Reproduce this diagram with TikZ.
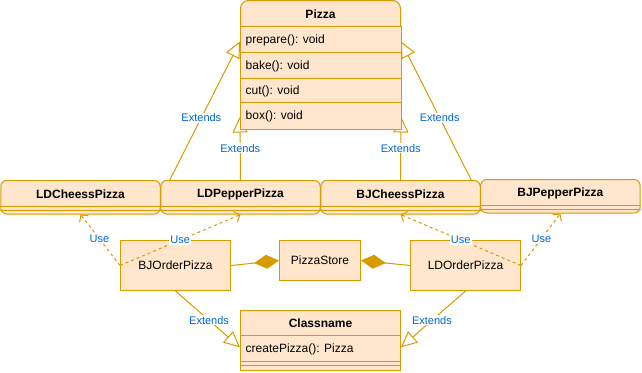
\documentclass[tikz,border=0pt]{standalone}
\usepackage{fontspec}
\setmainfont{Liberation Sans}
\usetikzlibrary{arrows.meta,calc}
\definecolor{boxfill}{HTML}{FFE6CC}
\definecolor{boxline}{HTML}{D79B00}
\definecolor{lblblue}{HTML}{0066CC}
\pgfdeclarelayer{bg}
\pgfsetlayers{bg,main}

\begin{document}
\begin{tikzpicture}[x=1pt,y=-1pt,
  clsbox/.style={draw=boxline, fill=boxfill, line width=1pt, inner sep=0pt, minimum width=160pt},
  roundbox/.style={clsbox, rounded corners=6pt, minimum width=159.5pt, minimum height=33.5pt},
  plainbox/.style={draw=boxline, fill=boxfill, line width=1pt, inner sep=0pt,
    font=\fontsize{12}{14}\selectfont},
  title/.style={font=\fontsize{12}{14}\selectfont\bfseries, inner sep=0pt},
  member/.style={font=\fontsize{12}{14}\selectfont, anchor=west, inner sep=0pt},
  sepline/.style={draw=boxline, line width=1pt},
  wire/.style={draw=boxline, line width=1pt},
  extends/.style={wire, -{Triangle[open, length=16pt, width=15pt]}},
  uses/.style={wire, dash pattern=on 3pt off 3pt, -{Straight Barb[length=5pt, width=11pt]}},
  owns/.style={wire, -{Diamond[length=25pt, width=14pt]}},
  lbl/.style={font=\fontsize{11}{13}\selectfont, text=lblblue, fill=white, inner sep=1pt}]

\useasboundingbox (0,0) rectangle (642,372);

% ---------- abstract product: Pizza ----------
\node[clsbox, rounded corners=8pt, minimum height=128pt] (pizza) at (320.5,64.5) {};
\draw[clsbox] ($(pizza.north west)+(0,26)$) rectangle (pizza.south east);
\foreach \dy in {52,78,102}
  \draw[sepline] ($(pizza.north west)+(0,\dy)$) -- ($(pizza.north east)+(0,\dy)$);
\node[title] (pizzat) at ($(pizza.north)+(0,14)$) {Pizza};
\node[member] (mprep) at ($(pizza.north west)+(5.5,40.5)$) {prepare(): void};
\node[member] (mbake) at ($(pizza.north west)+(5.5,66.5)$) {bake(): void};
\node[member] (mcut)  at ($(pizza.north west)+(5.5,91.5)$) {cut(): void};
\node[member] (mbox)  at ($(pizza.north west)+(5.5,116)$) {box(): void};

% ---------- concrete products ----------
\node[roundbox] (ldc) at (80.5,197.25) {};
\node[roundbox] (ldp) at (240.5,197.25) {};
\node[roundbox] (bjc) at (400.5,197.25) {};
\node[roundbox] (bjp) at (560.4,196.25) {};
\foreach \n in {ldc,ldp,bjc,bjp} {
  \draw[sepline] ($(\n.north west)+(0,26)$) -- ($(\n.north east)+(0,26)$);
  \draw[sepline] ($(\n.north west)+(0,30)$) -- ($(\n.north east)+(0,30)$);
}
\node[title] (ldct) at ($(ldc.north)+(0,14)$) {LDCheessPizza};
\node[title] (ldpt) at ($(ldp.north)+(0,14)$) {LDPepperPizza};
\node[title] (bjct) at ($(bjc.north)+(0,14)$) {BJCheessPizza};
\node[title] (bjpt) at ($(bjp.north)+(0,14)$) {BJPepperPizza};

% ---------- generalisation edges towards Pizza (behind the boxes) ----------
\coordinate (e1s) at ($(ldp.north west)+(9.5,0)$);
\coordinate (e1t) at ($(pizza.north west)+(0,41.5)$);
\coordinate (e2t) at ($(pizza.south west)+(0,-12.5)$);
\coordinate (e3s) at ($(bjc.north east)+(-9.5,0)$);
\coordinate (e3t) at ($(pizza.north east)+(0,41.5)$);
\coordinate (e4t) at ($(pizza.south east)+(0,-12.5)$);
\begin{pgfonlayer}{bg}
  \draw[extends] (e1s) -- node[lbl, pos=0.45] (x1) {Extends} (e1t);
  \draw[extends] (ldp.north) -- node[lbl, pos=0.5] (x2) {Extends} (e2t);
  \draw[extends] (e3s) -- node[lbl, pos=0.45] (x3) {Extends} (e3t);
  \draw[extends] (bjc.north) -- node[lbl, pos=0.5] (x4) {Extends} (e4t);
\end{pgfonlayer}

% ---------- store and ordering classes ----------
\node[plainbox, minimum width=110pt, minimum height=50pt] (bjo) at (175.5,265.5) {BJOrderPizza};
\node[plainbox, minimum width=81pt, minimum height=40pt] (ps) at (320,260.5) {PizzaStore};
\node[plainbox, minimum width=110pt, minimum height=50pt] (ldo) at (465.5,265.5) {LDOrderPizza};

% ---------- abstract creator ----------
\node[clsbox, minimum height=59.3pt] (cls) at (320.5,340.35) {};
\foreach \dy in {25.5,51.6,55.6}
  \draw[sepline] ($(cls.north west)+(0,\dy)$) -- ($(cls.north east)+(0,\dy)$);
\node[title] (clst) at ($(cls.north)+(0,13.5)$) {Classname};
\node[member] (mcreate) at ($(cls.north west)+(5.5,39.5)$) {createPizza(): Pizza};

% ---------- composition ----------
\draw[owns] (bjo.east) -- (ps.west);
\draw[owns] (ldo.west) -- (ps.east);

% ---------- generalisation towards Classname ----------
\coordinate (c1t) at ($(cls.west)+(0,7)$);
\coordinate (c2t) at ($(cls.east)+(0,7)$);
\draw[extends] (bjo.south) -- node[lbl, pos=0.52] (x5) {Extends} (c1t);
\draw[extends] (ldo.south) -- node[lbl, pos=0.52] (x6) {Extends} (c2t);

% ---------- dependencies ----------
\draw[uses] (bjo.west) -- node[lbl, pos=0.52] (u1) {Use} (ldc.south);
\draw[uses] (bjo.west) -- node[lbl, pos=0.5] (u2) {Use} (ldp.south);
\draw[uses] (ldo.east) -- node[lbl, pos=0.5] (u3) {Use} (bjc.south);
\draw[uses] (ldo.east) -- node[lbl, pos=0.52] (u4) {Use} (bjp.south);

\end{tikzpicture}
\end{document}
